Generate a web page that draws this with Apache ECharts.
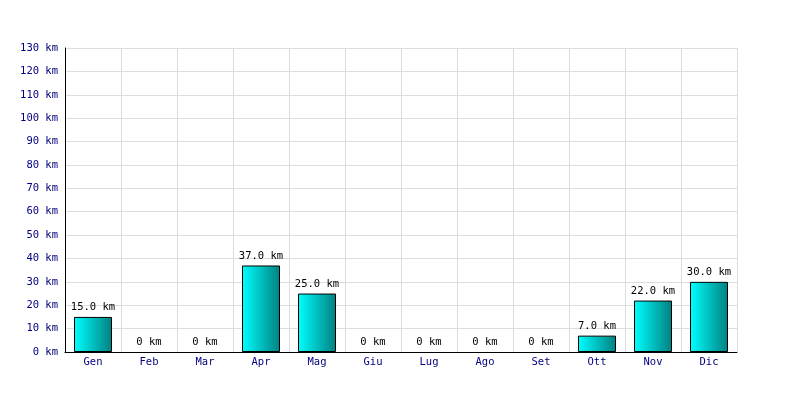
<!DOCTYPE html>
<html><head><meta charset="utf-8">
<script src="https://cdn.jsdelivr.net/npm/echarts@6/dist/echarts.min.js"></script>
<style>html,body{margin:0;padding:0;background:#fff}#c{width:800px;height:400px}</style>
</head><body><div id="c"></div>
<script>
const categories = ['Gen','Feb','Mar','Apr','Mag','Giu','Lug','Ago','Set','Ott','Nov','Dic'];
const values = [15, 0, 0, 37, 25, 0, 0, 0, 0, 7, 22, 30];
const yMax = 130;
const yInterval = 10;
const unit = 'km';

const chart = echarts.init(document.getElementById('c'));
const font = 'DejaVu Sans Mono';
const seriesData = values.map(v => v === 0 ? { value: v, itemStyle: { borderWidth: 0 } } : { value: v });
chart.setOption({
  animation: false,
  backgroundColor: '#fff',
  grid: { left: 65, right: 63, top: 48, bottom: 48, containLabel: false },
  xAxis: {
    type: 'category',
    data: categories,
    axisLine: { show: true, lineStyle: { color: '#000', width: 1 } },
    axisTick: { show: false },
    axisLabel: { color: '#000080', fontFamily: font, fontSize: 10.5, margin: 5 },
    splitLine: { show: true, lineStyle: { color: '#dddddd', width: 1 } }
  },
  yAxis: {
    type: 'value',
    min: 0, max: yMax, interval: yInterval,
    axisLine: { show: true, lineStyle: { color: '#000', width: 1 } },
    axisTick: { show: false },
    axisLabel: { color: '#000080', fontFamily: font, fontSize: 10.5, margin: 7,
      formatter: v => v + ' ' + unit },
    splitLine: { show: true, lineStyle: { color: '#dddddd', width: 1 } }
  },
  series: [{
    type: 'bar',
    data: seriesData,
    barWidth: 38,
    itemStyle: {
      color: new echarts.graphic.LinearGradient(0, 0, 1, 0, [
        { offset: 0, color: '#00ffff' },
        { offset: 1, color: '#008080' }
      ]),
      borderColor: '#000',
      borderWidth: 1
    },
    label: {
      show: true, position: 'top', distance: 4,
      color: '#000', fontFamily: font, fontSize: 10.5,
      formatter: p => (p.value === 0 ? '0' : p.value.toFixed(1)) + ' ' + unit
    }
  }]
});
</script></body></html>
